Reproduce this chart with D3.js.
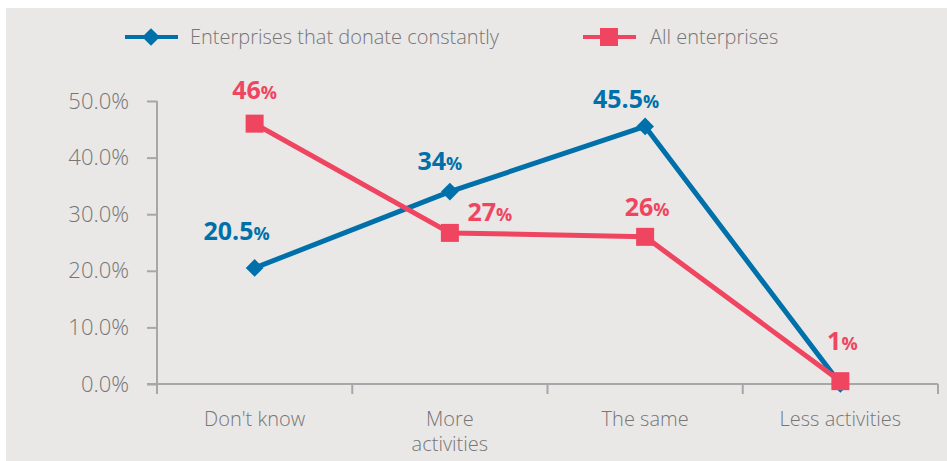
<!DOCTYPE html>
<html>
<head>
<meta charset="utf-8">
<script src="https://cdn.jsdelivr.net/npm/d3@7/dist/d3.min.js"></script>
<style>
  html, body { margin: 0; padding: 0; background: #ffffff; }
  svg { display: block; }
  .tick text { font-family: "Open Sans", Lato, sans-serif; font-weight: 300; }
</style>
</head>
<body>
<svg id="chart" width="947" height="461"></svg>
<script>
const categories = ["Don't know", "More activities", "The same", "Less activities"];
const categoryLines = [["Don't know"], ["More", "activities"], ["The same"], ["Less activities"]];
const seriesNames = ["Enterprises that donate constantly", "All enterprises"];
const constantValues = [20.5, 34, 45.5, 0];
const allValues = [46, 26.7, 26, 0.5];
const constantLabels = ["20.5", "34", "45.5", ""];
const allLabels = ["46", "27", "26", "1"];
const yTicks = [0, 10, 20, 30, 40, 50];

const BLUE = "#0070aa", RED = "#ef4560", AXIS = "#a7a7a9", TXT = "#767676";
const FONT = "'Open Sans', Lato, sans-serif";
const svg = d3.select("#chart");

svg.append("rect").attr("x", 6).attr("y", 8).attr("width", 941).attr("height", 453).attr("fill", "#e9e8e6");

const x = d3.scalePoint().domain(categories).range([157, 938]).padding(0.5);
const xBand = d3.scaleBand().domain(categories).range([157, 938]);
const y = d3.scaleLinear().domain([0, 50]).range([384, 101]);

// Y axis
const yAxis = svg.append("g").attr("transform", "translate(157,0)")
  .call(d3.axisLeft(y).tickValues(yTicks).tickSize(10).tickPadding(18).tickFormat(d => d.toFixed(1) + "%"));
yAxis.select(".domain").attr("stroke", AXIS).attr("stroke-width", 2).attr("d", "M0,101V394");
yAxis.selectAll(".tick line").attr("stroke", AXIS).attr("stroke-width", 2);
yAxis.selectAll(".tick text").attr("fill", TXT).attr("font-size", 22);

// X axis
const xAxis = svg.append("g").attr("transform", "translate(0,384)")
  .call(d3.axisBottom(xBand).tickSize(0).tickFormat(""));
xAxis.select(".domain").attr("stroke", AXIS).attr("stroke-width", 2).attr("d", "M147,0H938");
xAxis.selectAll(".tick line").remove();
const bounds = categories.map(c => xBand(c)).concat([938]);
svg.append("g").selectAll("line").data(bounds.slice(1)).join("line")
  .attr("x1", d => d).attr("x2", d => d).attr("y1", 384).attr("y2", 394)
  .attr("stroke", AXIS).attr("stroke-width", 2);

svg.append("g").selectAll("text").data(categories).join("text")
  .attr("x", d => x(d)).attr("y", 426)
  .attr("text-anchor", "middle").attr("fill", TXT)
  .attr("font-family", FONT).attr("font-weight", 300).attr("font-size", 20)
  .each(function(d, i) {
    const t = d3.select(this);
    categoryLines[i].forEach((ln, j) => {
      t.append("tspan").attr("x", x(d)).attr("dy", j === 0 ? 0 : 25).text(ln);
    });
  });

// lines
const line = d3.line().x((d, i) => x(categories[i])).y(d => y(d));
svg.append("path").datum(constantValues).attr("d", line)
  .attr("fill", "none").attr("stroke", BLUE).attr("stroke-width", 5).attr("stroke-linejoin", "round");
svg.append("path").datum(allValues).attr("d", line)
  .attr("fill", "none").attr("stroke", RED).attr("stroke-width", 5).attr("stroke-linejoin", "round");

// markers
const diamond = d3.symbol().type(d3.symbolDiamond2).size(200);
svg.append("g").selectAll("path").data(constantValues).join("path")
  .attr("d", diamond)
  .attr("transform", (d, i) => `translate(${x(categories[i])},${y(d)})`)
  .attr("fill", BLUE);
svg.append("g").selectAll("rect").data(allValues).join("rect")
  .attr("x", (d, i) => x(categories[i]) - 9).attr("y", d => y(d) - 9)
  .attr("width", 18).attr("height", 18).attr("fill", RED);

// value labels
function addLabel(txt, cx, cy, color) {
  if (!txt) return;
  const t = svg.append("text").attr("x", cx).attr("y", cy).attr("text-anchor", "middle")
    .attr("fill", color).attr("font-family", FONT).attr("font-weight", 700);
  t.append("tspan").attr("font-size", 25).text(txt);
  t.append("tspan").attr("font-size", 18).text("%");
}
const cOff = [[-18, -28], [-10, -22], [-19, -18], [0, 0]];
const aOff = [[0, -25], [40, -12], [2, -21], [2, -31]];
constantValues.forEach((v, i) => addLabel(constantLabels[i], x(categories[i]) + cOff[i][0], y(v) + cOff[i][1], BLUE));
allValues.forEach((v, i) => addLabel(allLabels[i], x(categories[i]) + aOff[i][0], y(v) + aOff[i][1], RED));

// legend
const legend = [
  { name: seriesNames[0], color: BLUE, x0: 125, tx: 190, marker: "diamond" },
  { name: seriesNames[1], color: RED, x0: 583, tx: 650, marker: "square" }
];
const lg = svg.append("g");
legend.forEach(l => {
  lg.append("line").attr("x1", l.x0).attr("x2", l.x0 + 53).attr("y1", 37).attr("y2", 37)
    .attr("stroke", l.color).attr("stroke-width", 4);
  if (l.marker === "diamond") {
    lg.append("path").attr("d", diamond).attr("transform", `translate(${l.x0 + 26},37)`).attr("fill", l.color);
  } else {
    lg.append("rect").attr("x", l.x0 + 17).attr("y", 28).attr("width", 18).attr("height", 18).attr("fill", l.color);
  }
  lg.append("text").attr("x", l.tx).attr("y", 44).attr("fill", TXT)
    .attr("font-family", FONT).attr("font-weight", 300).attr("font-size", 20).text(l.name);
});
</script>
</body>
</html>
